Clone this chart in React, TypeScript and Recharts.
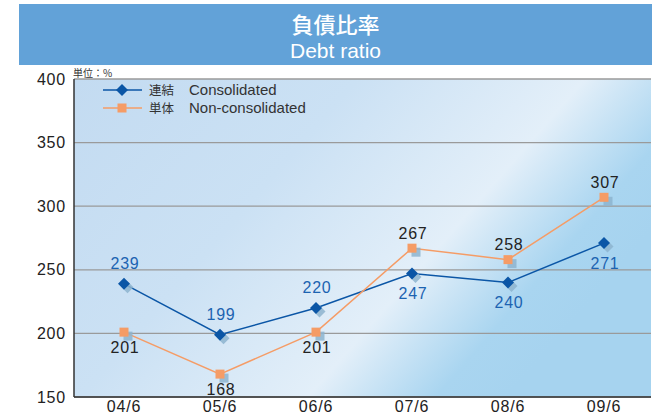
import React from 'react';
import { LineChart, Line, XAxis, YAxis, CartesianGrid } from 'recharts';

const categories = ['04/6', '05/6', '06/6', '07/6', '08/6', '09/6'];
const consolidated = [239, 199, 220, 247, 240, 271];
const nonConsolidated = [201, 168, 201, 267, 258, 307];
const yTicks = [150, 200, 250, 300, 350, 400];

const data = categories.map((c, i) => ({ name: c, con: consolidated[i], non: nonConsolidated[i] }));

const FONT = "'Liberation Sans', 'Noto Sans CJK JP', Arial, sans-serif";
const JP = "'Noto Sans CJK JP', sans-serif";
const BLUE = '#0b56a6';
const BLUE_TEXT = '#1c63b1';
const ORANGE = '#f59c66';
const SHADOW = '#8db4cf';

const DiamondDot = (props: any) => {
  const { cx, cy, index } = props;
  if (cx == null || cy == null) return <g key={`d${index}`} />;
  const r = 6;
  const path = (x: number, y: number) => `M${x},${y - r} L${x + r},${y} L${x},${y + r} L${x - r},${y} Z`;
  return (
    <g key={`d${index}`}>
      <path d={path(cx + 3.5, cy + 3.5)} fill={SHADOW} opacity={0.85} />
      <path d={path(cx, cy)} fill={BLUE} />
    </g>
  );
};

const SquareDot = (props: any) => {
  const { cx, cy, index } = props;
  if (cx == null || cy == null) return <g key={`s${index}`} />;
  const s = 9;
  return (
    <g key={`s${index}`}>
      <rect x={cx - s / 2 + 4} y={cy - s / 2 + 4} width={s} height={s} fill={SHADOW} opacity={0.85} />
      <rect x={cx - s / 2} y={cy - s / 2} width={s} height={s} fill={ORANGE} />
    </g>
  );
};

const makeLabel = (own: number[], other: number[], offset: number, color: string) => (props: any) => {
  const { x, y, index, value } = props;
  const above = own[index] > other[index];
  return (
    <text
      key={`l${index}`}
      x={x + 1}
      y={above ? y - offset : y + offset}
      textAnchor="middle"
      dominantBaseline="central"
      fontSize={16}
      letterSpacing={0.8}
      fontFamily={FONT}
      fill={color}
    >
      {value}
    </text>
  );
};

const LegendBox = () => (
  <div style={{ position: 'absolute', left: 103, top: 81, fontFamily: FONT, fontSize: 15, color: '#333', lineHeight: '18px' }}>
    <div style={{ display: 'flex', alignItems: 'center', height: 18 }}>
      <svg width={39} height={14} style={{ marginRight: 7 }}>
        <line x1={0} y1={7} x2={39} y2={7} stroke={BLUE} strokeWidth={1.5} />
        <path d="M19,1 L25,7 L19,13 L13,7 Z" fill={BLUE} />
      </svg>
      <span style={{ width: 40, display: 'inline-block', fontFamily: JP, fontSize: 12.5, lineHeight: '18px' }}>連結</span>
      <span>Consolidated</span>
    </div>
    <div style={{ display: 'flex', alignItems: 'center', height: 18 }}>
      <svg width={39} height={14} style={{ marginRight: 7 }}>
        <line x1={0} y1={7} x2={39} y2={7} stroke={ORANGE} strokeWidth={1.5} />
        <rect x={14.5} y={2.5} width={9} height={9} fill={ORANGE} />
      </svg>
      <span style={{ width: 40, display: 'inline-block', fontFamily: JP, fontSize: 12.5, lineHeight: '18px' }}>単体</span>
      <span>Non-consolidated</span>
    </div>
  </div>
);

export default function App() {
  const tickStyle = { fontSize: 16, fill: '#222', fontFamily: FONT, letterSpacing: 0.8 };
  return (
    <div style={{ position: 'absolute', left: 0, top: 0, width: 659, height: 419, background: '#fff', fontFamily: FONT }}>
      <div
        style={{
          position: 'absolute',
          left: 19,
          top: 4,
          width: 633,
          height: 61,
          background: '#62a2d8',
          color: '#fff',
          textAlign: 'center',
        }}
      >
        <div style={{ fontSize: 22, lineHeight: '26px', marginTop: 6, fontFamily: JP, fontWeight: 500 }}>
          負債比率
        </div>
        <div style={{ fontSize: 21, lineHeight: '24px', marginTop: 3 }}>Debt ratio</div>
      </div>
      <div style={{ position: 'absolute', left: 73, top: 65, fontSize: 10, color: '#333', fontFamily: JP }}>
        単位：%
      </div>
      <LineChart width={659} height={419} data={data} margin={{ top: 79, right: 8, bottom: 0, left: 0 }}>
        <defs>
          <linearGradient id="bg" x1="0" y1="0" x2="1" y2="0.48">
            <stop offset="0%" stopColor="#c3dbf1" />
            <stop offset="40%" stopColor="#cbe1f4" />
            <stop offset="72%" stopColor="#e3eff9" />
            <stop offset="90%" stopColor="#a9d5f0" />
            <stop offset="100%" stopColor="#a6d3ef" />
          </linearGradient>
        </defs>
        <CartesianGrid vertical={false} stroke="#9a9a9a" strokeWidth={1.3} fill="url(#bg)" fillOpacity={1} />
        <XAxis
          dataKey="name"
          height={22}
          padding={{ left: 50, right: 47 }}
          tickLine={false}
          tickSize={0}
          tickMargin={4}
          axisLine={{ stroke: '#333', strokeWidth: 1.5 }}
          tick={tickStyle}
        />
        <YAxis
          domain={[150, 400]}
          ticks={yTicks}
          width={74}
          tickLine={false}
          tickSize={0}
          tickMargin={8}
          axisLine={{ stroke: '#333', strokeWidth: 1.5 }}
          tick={tickStyle}
          interval={0}
        />
        <YAxis
          yAxisId="right"
          orientation="right"
          width={0}
          tick={false}
          tickLine={false}
          axisLine={{ stroke: '#555', strokeWidth: 1.2 }}
        />
        <Line
          dataKey="con"
          stroke={BLUE}
          strokeWidth={1.5}
          dot={DiamondDot}
          activeDot={false}
          isAnimationActive={false}
          label={makeLabel(consolidated, nonConsolidated, 20, BLUE_TEXT)}
        />
        <Line
          dataKey="non"
          stroke={ORANGE}
          strokeWidth={1.5}
          dot={SquareDot}
          activeDot={false}
          isAnimationActive={false}
          label={makeLabel(nonConsolidated, consolidated, 15, '#222')}
        />
      </LineChart>
      <LegendBox />
    </div>
  );
}
